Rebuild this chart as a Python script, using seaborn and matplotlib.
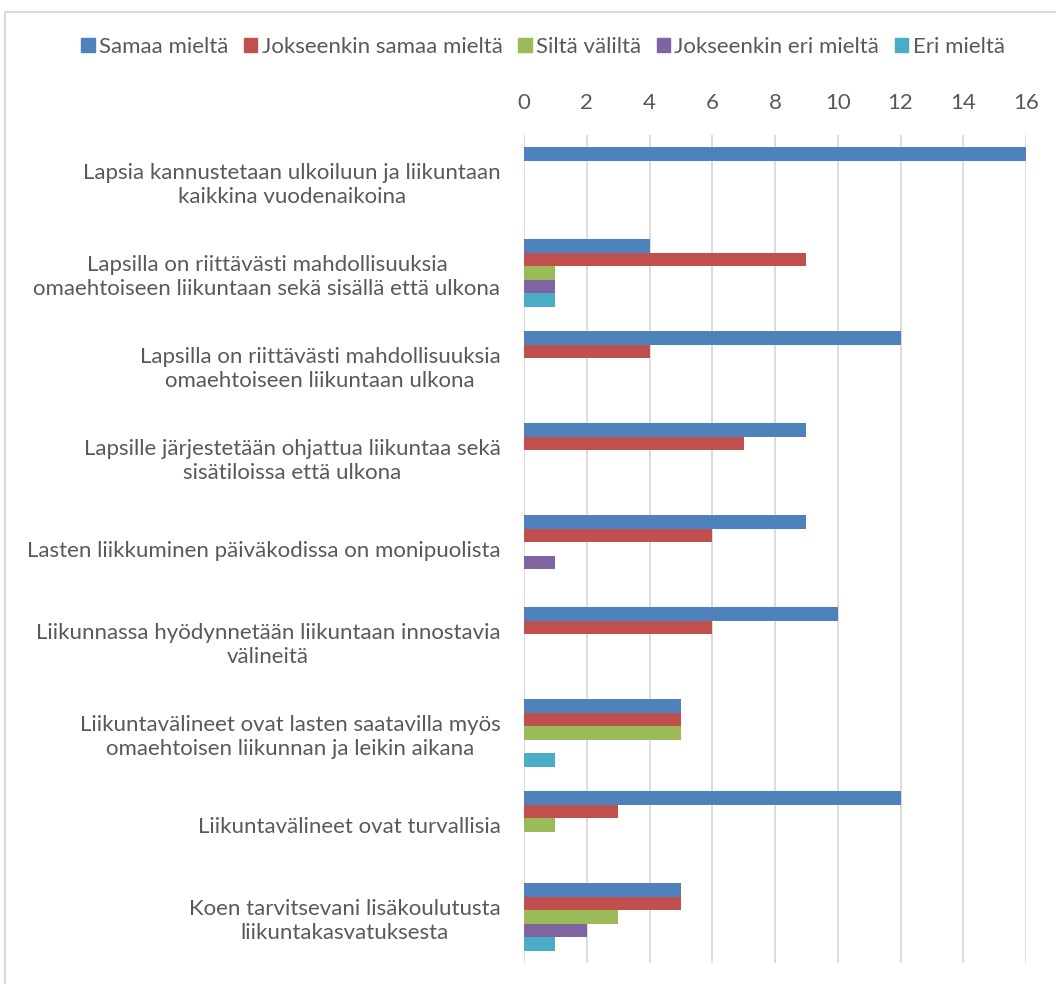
import pandas as pd
import matplotlib.pyplot as plt
import matplotlib.patches as mpatches
import seaborn as sns

# ==========================================
# data
# ==========================================
CATEGORIES = [
    "Lapsia kannustetaan ulkoiluun ja liikuntaan\nkaikkina vuodenaikoina",
    "Lapsilla on riittävästi mahdollisuuksia\nomaehtoiseen liikuntaan sekä sisällä että ulkona",
    "Lapsilla on riittävästi mahdollisuuksia\nomaehtoiseen liikuntaan ulkona",
    "Lapsille järjestetään ohjattua liikuntaa sekä\nsisätiloissa että ulkona",
    "Lasten liikkuminen päiväkodissa on monipuolista",
    "Liikunnassa hyödynnetään liikuntaan innostavia\nvälineitä",
    "Liikuntavälineet ovat lasten saatavilla myös\nomaehtoisen liikunnan ja leikin aikana",
    "Liikuntavälineet ovat turvallisia",
    "Koen tarvitsevani lisäkoulutusta\nliikuntakasvatuksesta",
]
SERIES = ["Samaa mieltä", "Jokseenkin samaa mieltä", "Siltä väliltä",
          "Jokseenkin eri mieltä", "Eri mieltä"]

samaa = [16, 4, 12, 9, 9, 10, 5, 12, 5]
jokseenkin_samaa = [0, 9, 4, 7, 6, 6, 5, 3, 5]
silta_valilta = [0, 1, 0, 0, 0, 0, 5, 1, 3]
jokseenkin_eri = [0, 1, 0, 0, 1, 0, 0, 0, 2]
eri = [0, 1, 0, 0, 0, 0, 1, 0, 1]
X_TICKS = list(range(0, 17, 2))

COLORS = ["#4F81BD", "#C0504D", "#9BBB59", "#8064A2", "#4BACC6"]
TEXT = "#595959"
GRID = "#D9D9D9"

rows = []
for s, vals in zip(SERIES, [samaa, jokseenkin_samaa, silta_valilta, jokseenkin_eri, eri]):
    for c, v in zip(CATEGORIES, vals):
        rows.append({"Kysymys": c, "Vastaus": s, "Lkm": v})
df = pd.DataFrame(rows)

# ==========================================
# plot
# ==========================================
sns.set_style("white")
plt.rcParams["font.family"] = ["Lato", "DejaVu Sans"]

fig = plt.figure(figsize=(10.56, 9.84), dpi=100)
ax = fig.add_axes([524 / 1056, 1 - 963 / 984, (1026 - 524) / 1056, (963 - 135) / 984])

sns.barplot(data=df, y="Kysymys", x="Lkm", hue="Vastaus", order=CATEGORIES,
            hue_order=SERIES, palette=COLORS, orient="h", width=0.73,
            saturation=1, errorbar=None, ax=ax, legend=False, zorder=3,
            linewidth=0)

ax.set_xlim(0, 16)
ax.set_xticks(X_TICKS)
ax.xaxis.tick_top()
ax.set_xlabel("")
ax.set_ylabel("")
ax.tick_params(axis="x", length=0, pad=16, labelsize=16, labelcolor=TEXT)
ax.tick_params(axis="y", length=0, pad=17, labelsize=16, labelcolor=TEXT)
for lab in ax.get_yticklabels():
    lab.set_multialignment("center")
    lab.set_linespacing(1.25)
ax.grid(False)
ax.vlines(X_TICKS, -0.5, len(CATEGORIES) - 0.5, colors=GRID, linewidth=1.3, zorder=0)
ax.set_ylim(len(CATEGORIES) - 0.5, -0.5)
for sp in ax.spines.values():
    sp.set_visible(False)

handles = [mpatches.Patch(color=c, label=s) for c, s in zip(COLORS, SERIES)]
fig.legend(handles=handles, loc="center", bbox_to_anchor=(543 / 1056, 1 - 47 / 984),
           ncol=5, frameon=False, fontsize=16, labelcolor=TEXT,
           handlelength=0.6, handleheight=0.6, handletextpad=0.2, columnspacing=0.7)

# chart border
fig.patches.append(mpatches.Rectangle((5 / 1056, -0.1), 1.2, 1 - 12 / 984 + 0.1,
                                      transform=fig.transFigure, fill=False,
                                      edgecolor=GRID, linewidth=1.5))

fig.savefig("out.png", dpi=100)
